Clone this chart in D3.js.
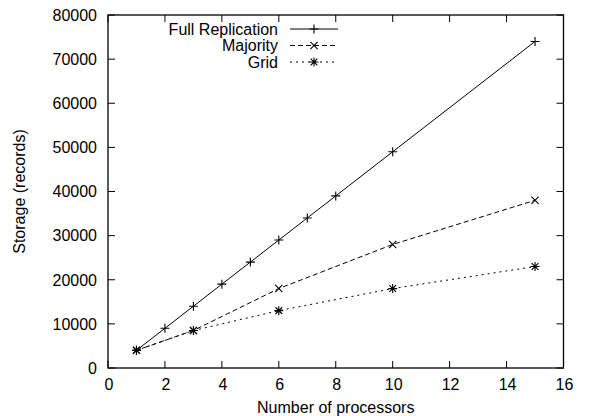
<!DOCTYPE html>
<html>
<head>
<meta charset="utf-8">
<title>Storage</title>
<script src="https://d3js.org/d3.v7.min.js"></script>
<style>
	html, body {margin: 0; background: #fff; overflow: hidden}
	text {font-family: "Liberation Sans", Arial, Helvetica, sans-serif; font-size: 16px; fill: #000}
	.frame {fill: none; stroke: #000; stroke-width: 1.3px}
	.tick {stroke: #000; stroke-width: 1px}
	.series {fill: none; stroke: #000; stroke-width: 1px}
	.mark {fill: none; stroke: #000; stroke-width: 1.1px}
</style>
</head>
<body>
<script>
	var width = 599, height = 416;

	// values
	var fullX = [1, 2, 3, 4, 5, 6, 7, 8, 10, 15];
	var fullY = [4000, 9000, 14000, 19000, 24000, 29000, 34000, 39000, 49000, 74000];
	var majorityX = [1, 3, 6, 10, 15];
	var majorityY = [4000, 8500, 18000, 28000, 38000];
	var gridX = [1, 3, 6, 10, 15];
	var gridY = [4000, 8500, 13000, 18000, 23000];

	var xTicks = [0, 2, 4, 6, 8, 10, 12, 14, 16];
	var yTicks = [0, 10000, 20000, 30000, 40000, 50000, 60000, 70000, 80000];

	var series = [
		{name: "Full Replication", xs: fullX, ys: fullY, dash: null, mark: "plus"},
		{name: "Majority", xs: majorityX, ys: majorityY, dash: "5,3", mark: "cross"},
		{name: "Grid", xs: gridX, ys: gridY, dash: "2,4", mark: "star"}
	];

	var margin = {left: 108, right: 35.5, top: 15, bottom: 48};

	var x = d3.scaleLinear().domain([0, 16]).range([margin.left, width - margin.right]);
	var y = d3.scaleLinear().domain([0, 80000]).range([height - margin.bottom, margin.top]);

	var svg = d3.select("body").append("svg")
		.attr("width", width)
		.attr("height", height);

	var x0 = x.range()[0], x1 = x.range()[1];
	var y0 = y.range()[0], y1 = y.range()[1];
	var tl = 7;

	// ticks on all four sides, pointing in
	var ticks = svg.append("g");
	xTicks.forEach(function(t){
		ticks.append("line").attr("class", "tick")
			.attr("x1", x(t)).attr("x2", x(t)).attr("y1", y0).attr("y2", y0 - tl);
		ticks.append("line").attr("class", "tick")
			.attr("x1", x(t)).attr("x2", x(t)).attr("y1", y1).attr("y2", y1 + tl);
		svg.append("text")
			.attr("x", x(t) + 1)
			.attr("y", y0 + 22)
			.attr("text-anchor", "middle")
			.text(t);
	});
	yTicks.forEach(function(t){
		ticks.append("line").attr("class", "tick")
			.attr("x1", x0).attr("x2", x0 + tl).attr("y1", y(t)).attr("y2", y(t));
		ticks.append("line").attr("class", "tick")
			.attr("x1", x1).attr("x2", x1 - tl).attr("y1", y(t)).attr("y2", y(t));
		svg.append("text")
			.attr("x", x0 - 11)
			.attr("y", y(t))
			.attr("dy", "0.36em")
			.attr("text-anchor", "end")
			.text(t);
	});

	svg.append("rect").attr("class", "frame")
		.attr("x", x0).attr("y", y1)
		.attr("width", x1 - x0).attr("height", y0 - y1);

	svg.append("text")
		.attr("x", (x0 + x1) / 2)
		.attr("y", 413)
		.attr("text-anchor", "middle")
		.text("Number of processors");

	svg.append("text")
		.attr("transform", "translate(25," + ((y0 + y1) / 2) + ")rotate(-90)")
		.attr("text-anchor", "middle")
		.text("Storage (records)");

	function drawMark(g, kind, cx, cy){
		var r = 4.5;
		var p = "";
		if (kind == "plus" || kind == "star") {
			p += "M" + (cx - r) + "," + cy + "H" + (cx + r) + "M" + cx + "," + (cy - r) + "V" + (cy + r);
		}
		if (kind == "cross" || kind == "star") {
			var q = kind == "star" ? r * 0.75 : r * 0.8;
			p += "M" + (cx - q) + "," + (cy - q) + "L" + (cx + q) + "," + (cy + q)
				+ "M" + (cx - q) + "," + (cy + q) + "L" + (cx + q) + "," + (cy - q);
		}
		g.append("path").attr("class", "mark").attr("d", p);
	}

	var line = d3.line()
		.x(function(d){ return x(d[0]); })
		.y(function(d){ return y(d[1]); });

	series.forEach(function(s){
		var pts = s.xs.map(function(v, i){ return [v, s.ys[i]]; });
		svg.append("path")
			.attr("class", "series")
			.attr("d", line(pts))
			.attr("stroke-dasharray", s.dash);
		var g = svg.append("g");
		pts.forEach(function(d){ drawMark(g, s.mark, x(d[0]), y(d[1])); });
	});

	// legend
	var legend = svg.append("g");
	series.forEach(function(s, i){
		var ly = 29 + i * 16.5;
		legend.append("text")
			.attr("x", 278)
			.attr("y", ly)
			.attr("dy", "0.36em")
			.attr("text-anchor", "end")
			.text(s.name);
		legend.append("line")
			.attr("class", "series")
			.attr("x1", 290).attr("x2", 338)
			.attr("y1", ly).attr("y2", ly)
			.attr("stroke-dasharray", s.dash);
		drawMark(legend, s.mark, 314, ly);
	});
</script>
</body>
</html>
